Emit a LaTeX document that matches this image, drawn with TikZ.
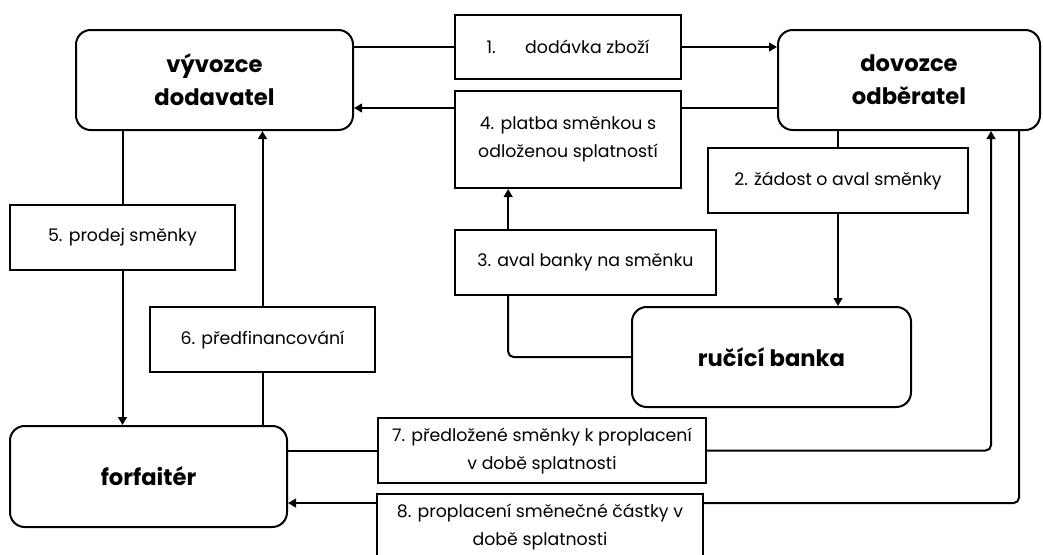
\documentclass[tikz,border=0pt]{standalone}
\usepackage{fontspec}
\setmainfont{Poppins}
\usetikzlibrary{arrows.meta}

\begin{document}
\begin{tikzpicture}[x=0.75pt,y=-0.75pt,
  party/.style={draw,line width=1.5pt,rounded corners=11pt,align=center,
    inner sep=0pt,font=\fontsize{17}{25}\selectfont\bfseries},
  stepbox/.style={draw,line width=1.5pt,align=center,inner sep=0pt,
    font=\fontsize{13}{21}\selectfont},
  flow/.style={line width=1.5pt,rounded corners=4pt},
  arr/.style={flow,-{Triangle[length=6pt,width=6.5pt]}}]
  % Display coordinates: 1 unit = 1 pixel, y down.
  \clip (0,0) rectangle (1043,554);

  % Parties.
  \node[party,minimum width=207.75pt,minimum height=75pt] (vyvozce) at (214.5,80) {vývozce\\dodavatel};
  \node[party,minimum width=196.5pt,minimum height=75pt] (dovozce) at (909,80) {dovozce\\odběratel};
  \node[party,minimum width=209.25pt,minimum height=75pt] (banka) at (771.5,357) {ručící banka};
  \node[party,minimum width=207.75pt,minimum height=75.75pt] (forfaiter) at (148.5,476.5) {forfaitér};

  % Steps.
  \node[stepbox,minimum width=169.5pt,minimum height=48pt] (s1) at (568,47) {1.\hspace{22pt}dodávka zboží};
  \node[stepbox,minimum width=195pt,minimum height=48.75pt] (s2) at (838,180.5) {2. žádost o aval směnky};
  \node[stepbox,minimum width=195.75pt,minimum height=48.75pt] (s3) at (585.5,262.5) {3. aval banky na směnku};
  \node[stepbox,minimum width=169.5pt,minimum height=72.75pt] (s4) at (568,139.5) {4. platba směnkou s\\odloženou splatností};
  \node[stepbox,minimum width=168.75pt,minimum height=48.75pt] (s5) at (122.5,237.5) {5. prodej směnky};
  \node[stepbox,minimum width=168.75pt,minimum height=48.75pt] (s6) at (262.5,339.5) {6. předfinancování};
  \node[stepbox,minimum width=246pt,minimum height=48.75pt] (s7) at (542,450.5) {7. předložené směnky k proplacení\\v době splatnosti};
  \node[stepbox,minimum width=244.5pt,minimum height=48.75pt] (s8) at (540,526.5) {8. proplacení směnečné částky v\\době splatnosti};

  % Goods and bill.
  \draw[flow] (s1.west) -- (s1.west -| vyvozce.east);
  \draw[arr] (s1.east) -- (s1.east -| dovozce.west);
  \draw[flow] ([yshift=-13.5pt]s4.north east) -- ([yshift=-13.5pt]s4.north east -| dovozce.west);
  \draw[arr] ([yshift=-13.5pt]s4.north west) -- ([yshift=-13.5pt]s4.north west -| vyvozce.east);

  % Aval.
  \draw[flow] (s2.north) -- (s2.north |- dovozce.south);
  \draw[arr] (s2.south) -- (s2.south |- banka.north);
  \draw[flow] (banka.west) -| ([xshift=-58pt]s3.south);
  \draw[arr] ([xshift=-58pt]s3.north) -- ([xshift=-58pt]s3.north |- s4.south);

  % Forfaiting.
  \draw[flow] (s5.north) -- (s5.north |- vyvozce.south);
  \draw[arr] (s5.south) -- (s5.south |- forfaiter.north);
  \draw[flow] (s6.south) -- (s6.south |- forfaiter.north);
  \draw[arr] (s6.north) -- (s6.north |- vyvozce.south);

  % Payment at maturity.
  \draw[flow] (s7.west) -- (s7.west -| forfaiter.east);
  \draw[arr] (s7.east) -| ([xshift=61.5pt]dovozce.south);
  \draw[flow] ([xshift=82.5pt]dovozce.south) |- ([yshift=17.6pt]s8.east);
  \draw[arr] ([yshift=17.6pt]s8.west) -- ([yshift=17.6pt]s8.west -| forfaiter.east);
\end{tikzpicture}
\end{document}
